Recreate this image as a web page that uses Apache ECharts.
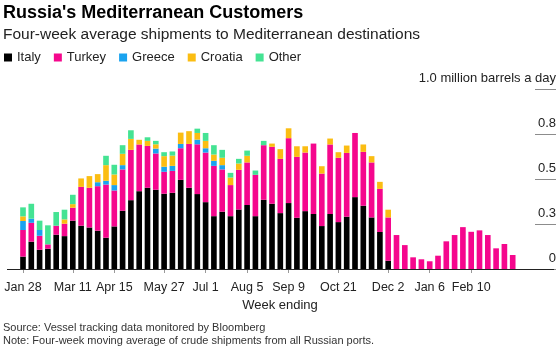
<!DOCTYPE html>
<html>
<head>
<meta charset="utf-8">
<script src="https://cdn.jsdelivr.net/npm/echarts@6/dist/echarts.min.js"></script>
<style>
  html, body { margin: 0; padding: 0; background: #fff; }
  #chart { width: 560px; height: 353px; }
</style>
</head>
<body>
<div id="chart"></div>
<script>
// week ending dates, Jan 28 2022 .. Mar 17 2023
const weeks = [
  'Jan 28', 'Feb 4', 'Feb 11', 'Feb 18', 'Feb 25', 'Mar 4', 'Mar 11', 'Mar 18', 'Mar 25', 'Apr 1',
  'Apr 8', 'Apr 15', 'Apr 22', 'Apr 29', 'May 6', 'May 13', 'May 20', 'May 27', 'Jun 3', 'Jun 10',
  'Jun 17', 'Jun 24', 'Jul 1', 'Jul 8', 'Jul 15', 'Jul 22', 'Jul 29', 'Aug 5', 'Aug 12', 'Aug 19',
  'Aug 26', 'Sep 2', 'Sep 9', 'Sep 16', 'Sep 23', 'Sep 30', 'Oct 7', 'Oct 14', 'Oct 21', 'Oct 28',
  'Nov 4', 'Nov 11', 'Nov 18', 'Nov 25', 'Dec 2', 'Dec 9', 'Dec 16', 'Dec 23', 'Dec 30', 'Jan 6',
  'Jan 13', 'Jan 20', 'Jan 27', 'Feb 3', 'Feb 10', 'Feb 17', 'Feb 24', 'Mar 3', 'Mar 10', 'Mar 17'
];
const tickLabels = ['Jan 28', 'Mar 11', 'Apr 15', 'May 27', 'Jul 1', 'Aug 5', 'Sep 9', 'Oct 21', 'Dec 2', 'Jan 6', 'Feb 10'];
const yTicks = [0, 0.25, 0.5, 0.75, 1];

// million barrels a day
const italy = [
  0.069, 0.152, 0.107, 0.113, 0.191, 0.183, 0.269, 0.241, 0.231, 0.213,
  0.174, 0.237, 0.324, 0.383, 0.433, 0.452, 0.441, 0.419, 0.424, 0.496,
  0.452, 0.417, 0.372, 0.294, 0.319, 0.294, 0.331, 0.356, 0.294, 0.385,
  0.363, 0.311, 0.367, 0.285, 0.322, 0.306, 0.239, 0.306, 0.261, 0.291,
  0.400, 0.352, 0.287, 0.206, 0.046, 0, 0, 0, 0, 0,
  0, 0, 0, 0, 0, 0, 0, 0, 0, 0
];
const turkey = [
  0.148, 0.105, 0.078, 0.024, 0.050, 0.069, 0.072, 0.216, 0.221, 0.248,
  0.296, 0.200, 0.230, 0.280, 0.260, 0.233, 0.202, 0.122, 0.122, 0.176,
  0.244, 0.277, 0.276, 0.280, 0.235, 0.173, 0.221, 0.237, 0.230, 0.304,
  0.317, 0.302, 0.361, 0.339, 0.326, 0.392, 0.292, 0.387, 0.358, 0.355,
  0.357, 0.300, 0.306, 0.240, 0.241, 0.189, 0.133, 0.065, 0.054, 0.043,
  0.074, 0.154, 0.189, 0.233, 0.207, 0.215, 0.189, 0.115, 0.139, 0.078
];
const greece = [
  0.050, 0.023, 0.032, 0, 0, 0, 0, 0, 0, 0.022,
  0.021, 0.030, 0.024, 0, 0, 0, 0.027, 0.028, 0.028, 0.024,
  0, 0.026, 0.024, 0.028, 0.024, 0, 0, 0, 0, 0,
  0, 0, 0, 0, 0, 0, 0, 0, 0, 0,
  0, 0, 0, 0, 0, 0, 0, 0, 0, 0,
  0, 0, 0, 0, 0, 0, 0, 0, 0, 0
];
const croatia = [
  0.026, 0, 0, 0, 0, 0.024, 0.020, 0.047, 0.065, 0.045,
  0.087, 0.059, 0.063, 0.061, 0.026, 0.028, 0.024, 0.059, 0.057, 0.063,
  0.071, 0.037, 0.041, 0.035, 0.041, 0.042, 0.035, 0.037, 0, 0,
  0.018, 0.054, 0.055, 0.059, 0.035, 0, 0.041, 0.033, 0.031, 0.041,
  0, 0.041, 0.035, 0.039, 0.043, 0, 0, 0, 0, 0,
  0, 0, 0, 0, 0, 0, 0, 0, 0, 0
];
const other = [
  0.050, 0.083, 0.052, 0.106, 0.076, 0.054, 0.052, 0, 0, 0,
  0.052, 0.054, 0.048, 0.048, 0, 0.020, 0.019, 0.022, 0.023, 0,
  0, 0.024, 0.044, 0.052, 0.044, 0.026, 0.026, 0.029, 0.024, 0.024,
  0, 0, 0, 0, 0, 0, 0, 0, 0, 0,
  0, 0, 0, 0, 0, 0, 0, 0, 0, 0,
  0, 0, 0, 0, 0, 0, 0, 0, 0, 0
];

const FONT = '"Liberation Sans", Arial, sans-serif';
const chart = echarts.init(document.getElementById('chart'));

const mkSeries = (name, data, color) => ({
  name,
  type: 'bar',
  stack: 'total',
  data,
  xAxisIndex: 0,
  yAxisIndex: 0,
  barCategoryGap: '32%',
  itemStyle: { color },
  emphasis: { disabled: true },
});

const showTick = (i) => tickLabels.includes(weeks[i]);

chart.setOption({
  animation: false,
  textStyle: { fontFamily: FONT },
  title: [
    {
      text: "Russia's Mediterranean Customers",
      left: 3, top: 4, padding: 0,
      textStyle: { fontSize: 18, fontWeight: 'bold', color: '#000', fontFamily: FONT },
    },
    {
      text: 'Four-week average shipments to Mediterranean destinations',
      left: 3, top: 27, padding: 0,
      textStyle: { fontSize: 15.5, fontWeight: 'normal', color: '#222', fontFamily: FONT },
    },
    {
      text: 'Week ending',
      left: 'center', top: 299, padding: 0,
      textStyle: { fontSize: 13, fontWeight: 'normal', color: '#222', fontFamily: FONT },
    },
    {
      text: 'Source: Vessel tracking data monitored by Bloomberg',
      left: 3, top: 322, padding: 0,
      textStyle: { fontSize: 11, fontWeight: 'normal', color: '#333', fontFamily: FONT },
    },
    {
      text: 'Note: Four-week moving average of crude shipments from all Russian ports.',
      left: 3, top: 335, padding: 0,
      textStyle: { fontSize: 11, fontWeight: 'normal', color: '#333', fontFamily: FONT },
    },
  ],
  legend: {
    data: ['Italy', 'Turkey', 'Greece', 'Croatia', 'Other'],
    left: 4, top: 51, padding: 0,
    icon: 'rect', itemWidth: 8, itemHeight: 8, itemGap: 13,
    textStyle: { fontSize: 13, color: '#222', fontFamily: FONT },
  },
  grid: [
    { left: 18.85, right: 43.15, top: 89.3, bottom: 84 },
    { left: 535, right: 4, top: 89.3, bottom: 84 },
  ],
  xAxis: [
    {
      type: 'category', gridIndex: 0, data: weeks,
      axisLine: { show: false },
      axisTick: { show: true, alignWithLabel: true, interval: showTick, length: 4, lineStyle: { color: '#999' } },
      axisLabel: { interval: showTick, fontSize: 12.5, color: '#222', margin: 12, fontFamily: FONT },
    },
    { type: 'value', gridIndex: 1, show: false },
  ],
  yAxis: [
    { type: 'value', gridIndex: 0, min: 0, max: 1, show: false },
    {
      type: 'value', gridIndex: 1, position: 'right',
      min: yTicks[0], max: yTicks[yTicks.length - 1], interval: 0.25,
      axisLine: { show: false },
      axisTick: { show: false },
      splitLine: { show: true, lineStyle: { color: '#8c8c8c', width: 1 } },
      axisLabel: {
        inside: true, margin: 0, fontSize: 13, color: '#222', fontFamily: FONT,
        align: 'right', verticalAlign: 'bottom', padding: [0, 0, 4, 0],
        formatter: (v) => v === 0 ? '0' : v === 1 ? '1.0 million barrels a day' : v.toFixed(1),
      },
    },
  ],
  graphic: [
    { type: 'line', shape: { x1: 7, y1: 269.5, x2: 554, y2: 269.5 }, style: { stroke: '#222', lineWidth: 1 }, z: 10 },
  ],
  series: [
    mkSeries('Italy', italy, '#000000'),
    mkSeries('Turkey', turkey, '#f5078d'),
    mkSeries('Greece', greece, '#1aa3ef'),
    mkSeries('Croatia', croatia, '#fbbd12'),
    mkSeries('Other', other, '#44e393'),
  ],
});

window.addEventListener('resize', () => chart.resize());
</script>
</body>
</html>
